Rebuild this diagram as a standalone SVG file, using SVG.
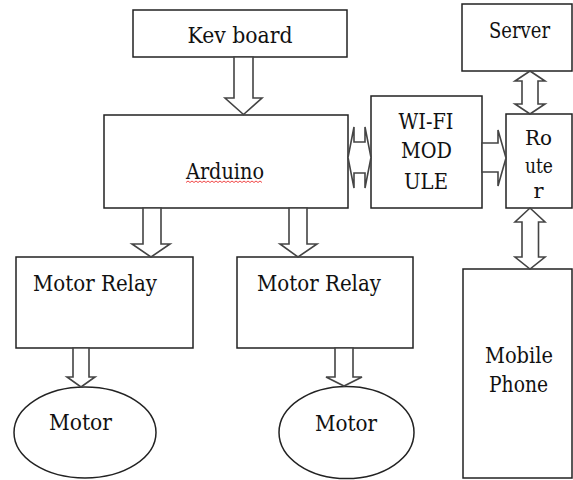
<svg xmlns="http://www.w3.org/2000/svg" width="573" height="480" viewBox="0 0 573 480">
<style>
.box{fill:#fff;stroke:#222;stroke-width:1.5}
.arr{fill:#fff;stroke:#444;stroke-width:1.6;stroke-linejoin:miter}
text{font-family:'DejaVu Serif',serif;font-size:22px;fill:#111}
.c{text-anchor:middle}
.r{font-size:21px}
</style>
<rect width="573" height="480" fill="#fff"/>
<g id="keyboard"><rect class="box" x="133" y="10" width="214" height="47"/><text class="c" x="240" y="43" textLength="105" lengthAdjust="spacingAndGlyphs">Kev board</text></g>
<g id="arduino"><rect class="box" x="104" y="115" width="244" height="93"/><text class="c" x="225" y="179" textLength="78" lengthAdjust="spacingAndGlyphs">Arduino</text>
<path d="M186 182.5 l2 -1.5 l2 1.5 l2 -1.5 l2 1.5 l2 -1.5 l2 1.5 l2 -1.5 l2 1.5 l2 -1.5 l2 1.5 l2 -1.5 l2 1.5 l2 -1.5 l2 1.5 l2 -1.5 l2 1.5 l2 -1.5 l2 1.5 l2 -1.5 l2 1.5 l2 -1.5 l2 1.5 l2 -1.5 l2 1.5 l2 -1.5 l2 1.5 l2 -1.5 l2 1.5 l2 -1.5 l2 1.5 l2 -1.5 l2 1.5 l2 -1.5 l2 1.5 l2 -1.5 l2 1.5 l2 -1.5 l2 1.5" fill="none" stroke="#e33" stroke-width="0.9"/></g>
<g id="wifi"><rect class="box" x="371" y="96" width="111" height="112"/>
<text class="c" x="426" y="129" textLength="55" lengthAdjust="spacingAndGlyphs">WI-FI</text><text class="c" x="426.5" y="158" textLength="51" lengthAdjust="spacingAndGlyphs">MOD</text><text class="c" x="426" y="189" textLength="44" lengthAdjust="spacingAndGlyphs">ULE</text></g>
<g id="server"><rect class="box" x="462" y="4" width="110" height="67"/><text class="c" x="519.5" y="38" textLength="61" lengthAdjust="spacingAndGlyphs">Server</text></g>
<g id="router"><rect class="box" x="506" y="114" width="66" height="94"/>
<text class="c r" x="538.5" y="145" textLength="27" lengthAdjust="spacingAndGlyphs">Ro</text><text class="c r" x="539" y="173" textLength="28" lengthAdjust="spacingAndGlyphs">ute</text><text class="c r" x="538.5" y="198">r</text></g>
<g id="relay1"><rect class="box" x="16" y="257" width="177" height="91"/><text x="33" y="291" textLength="124" lengthAdjust="spacingAndGlyphs">Motor Relay</text></g>
<g id="relay2"><rect class="box" x="237" y="257" width="176" height="91"/><text x="257" y="291" textLength="124" lengthAdjust="spacingAndGlyphs">Motor Relay</text></g>
<g id="mobile"><rect class="box" x="463" y="269" width="109" height="209"/>
<text class="c" x="519" y="363" textLength="68" lengthAdjust="spacingAndGlyphs">Mobile</text><text class="c" x="518.5" y="392" textLength="59" lengthAdjust="spacingAndGlyphs">Phone</text></g>
<g id="motor1"><ellipse class="box" cx="85" cy="432.5" rx="71" ry="45.5"/><text class="c" x="80.5" y="430" textLength="63" lengthAdjust="spacingAndGlyphs">Motor</text></g>
<g id="motor2"><ellipse class="box" cx="346.5" cy="432.5" rx="67.5" ry="46"/><text class="c" x="346" y="431" textLength="62" lengthAdjust="spacingAndGlyphs">Motor</text></g>
<g id="connectors">
<polygon class="arr" points="234,57 253,57 253,98 262,98 243.5,114.5 225,98 234,98"/>
<polygon class="arr" points="143,208 161,208 161,244 170,244 151,257 132,244 143,244"/>
<polygon class="arr" points="289,208 307,208 307,244 317,244 298,257 280,244 289,244"/>
<polygon class="arr" points="73,348 89,348 89,377 95,377 81,387 67,377 73,377"/>
<polygon class="arr" points="335,348 353,348 353,377 362,377 344,386 326,377 335,377"/>
<polygon class="arr" points="530,71 545,81 538,81 538,104 545,104 530,114 515,104 522,104 522,81 515,81"/>
<polygon class="arr" points="530,208 545,222 538.5,222 538.5,257 545,257 530,269 515,257 522,257 522,222 515,222"/>
<polygon class="arr" points="348,157.5 354,127 354,142 365,142 365,127 371,157.5 365,188 365,173 354,173 354,188"/>
<polygon class="arr" points="482,143 498,143 498,130 506,158 498,186 498,172 482,172"/>
</g>
</svg>
